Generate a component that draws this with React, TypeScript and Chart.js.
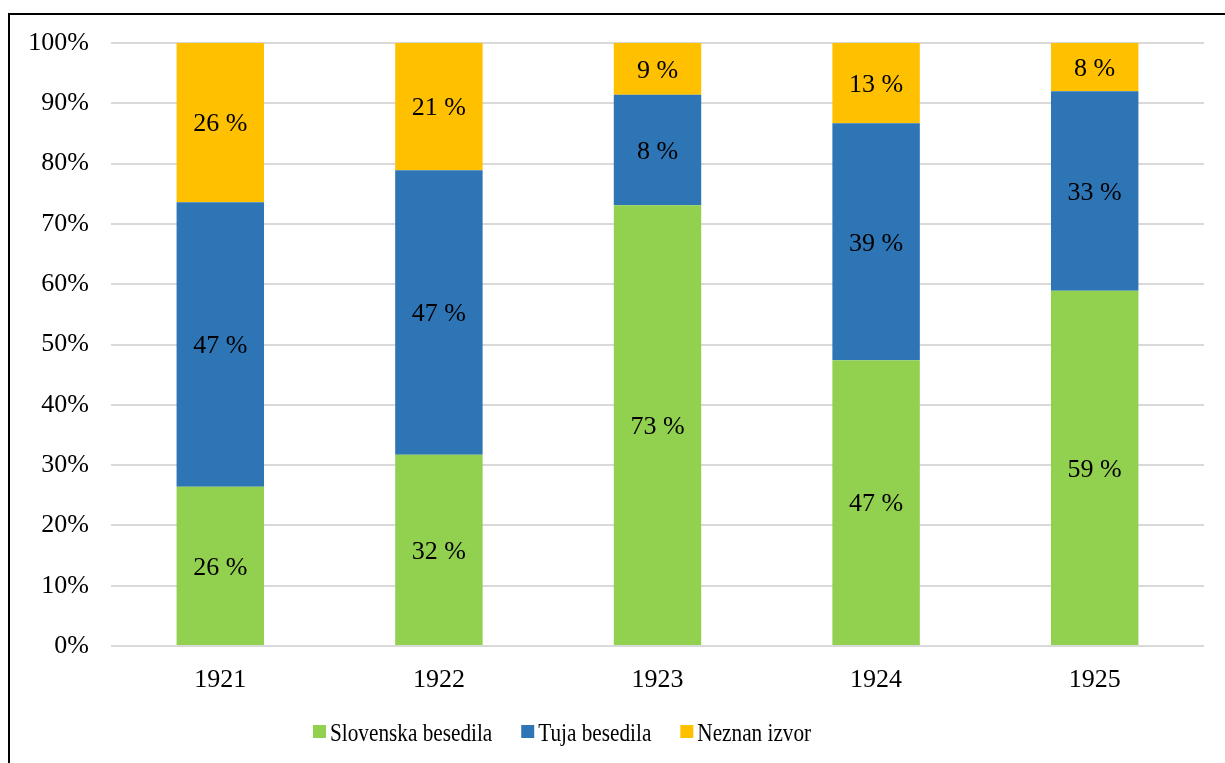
import React, { useEffect, useRef } from "react";
import { Chart, registerables } from "chart.js";

Chart.register(...registerables);

const years = ["1921", "1922", "1923", "1924", "1925"];
// segment heights as drawn (percent of bar)
const slovenska = [26.4, 31.7, 73.1, 47.4, 58.9];
const tuja = [47.2, 47.2, 18.3, 39.3, 33.1];
const neznan = [26.4, 21.1, 8.6, 13.3, 8.0];
// printed data labels (as shown on the chart)
const slovenskaLabels = ["26 %", "32 %", "73 %", "47 %", "59 %"];
const tujaLabels = ["47 %", "47 %", "8 %", "39 %", "33 %"];
const neznanLabels = ["26 %", "21 %", "9 %", "13 %", "8 %"];
const seriesNames = ["Slovenska besedila", "Tuja besedila", "Neznan izvor"];
const seriesColors = ["#92D050", "#2E75B6", "#FFC000"];
const yTicks = [0, 10, 20, 30, 40, 50, 60, 70, 80, 90, 100];

const FONT = '"Liberation Serif", "Times New Roman", serif';

const dataLabelPlugin = {
  id: "dataLabels",
  afterDatasetsDraw(chart: any) {
    const ctx = chart.ctx;
    ctx.save();
    ctx.font = `26px ${FONT}`;
    ctx.fillStyle = "#000";
    ctx.textAlign = "center";
    ctx.textBaseline = "middle";
    chart.data.datasets.forEach((ds: any, di: number) => {
      const meta = chart.getDatasetMeta(di);
      meta.data.forEach((el: any, i: number) => {
        const y = (el.y + el.base) / 2;
        ctx.fillText(ds.printed[i], el.x, y + 2);
      });
    });
    ctx.restore();
  },
};

const legendPlugin = {
  id: "customLegend",
  afterDraw(chart: any) {
    const ctx = chart.ctx;
    ctx.save();
    ctx.font = `26px ${FONT}`;
    ctx.textBaseline = "alphabetic";
    ctx.textAlign = "left";
    const sx = 0.817;
    let x = 313;
    const boxSize = 13;
    const boxTop = 725;
    const baseline = 741;
    chart.data.datasets.forEach((ds: any) => {
      ctx.fillStyle = ds.backgroundColor;
      ctx.fillRect(x, boxTop, boxSize, boxSize);
      const tx = x + boxSize + 4;
      const w = ctx.measureText(ds.label).width * sx;
      ctx.save();
      ctx.translate(tx, baseline);
      ctx.scale(sx, 1);
      ctx.fillStyle = "#000";
      ctx.fillText(ds.label, 0, 0);
      ctx.restore();
      x = tx + w + 29;
    });
    ctx.restore();
  },
};

export default function App() {
  const canvasRef = useRef<HTMLCanvasElement | null>(null);

  useEffect(() => {
    if (!canvasRef.current) return;
    const chart = new Chart(canvasRef.current, {
      type: "bar",
      data: {
        labels: years,
        datasets: [
          { label: seriesNames[0], data: slovenska, backgroundColor: seriesColors[0], printed: slovenskaLabels } as any,
          { label: seriesNames[1], data: tuja, backgroundColor: seriesColors[1], printed: tujaLabels } as any,
          { label: seriesNames[2], data: neznan, backgroundColor: seriesColors[2], printed: neznanLabels } as any,
        ],
      },
      options: {
        animation: false,
        responsive: false,
        maintainAspectRatio: false,
        devicePixelRatio: 1,
        layout: { padding: { left: 0, right: 21, top: 43, bottom: 0 } },
        datasets: {
          bar: { barPercentage: 0.8, categoryPercentage: 0.5, borderWidth: 0 },
        },
        plugins: {
          legend: { display: false },
          tooltip: { enabled: false },
        },
        scales: {
          x: {
            stacked: true,
            grid: { display: false, drawTicks: false },
            border: { display: false },
            ticks: {
              color: "#000",
              font: { family: FONT, size: 26 },
              padding: 19,
            },
            afterFit: (s: any) => {
              s.height = 117;
            },
          },
          y: {
            stacked: true,
            min: 0,
            max: 100,
            afterBuildTicks: (s: any) => {
              s.ticks = yTicks.map((v) => ({ value: v }));
            },
            grid: { color: "#D9D9D9", lineWidth: 2, drawTicks: false },
            border: { display: false },
            ticks: {
              color: "#000",
              font: { family: FONT, size: 26 },
              padding: 22,
              callback: (v: any) => `${v}%`,
            },
            afterFit: (s: any) => {
              s.width = 111;
            },
          },
        },
      },
      plugins: [dataLabelPlugin, legendPlugin],
    });
    return () => chart.destroy();
  }, []);

  return (
    <>
      <div
        style={{
          position: "fixed",
          left: 8,
          top: 13,
          width: 1400,
          height: 900,
          border: "2px solid #000",
          background: "#fff",
        }}
      />
      <div style={{ position: "fixed", left: 0, top: 0, width: 1225, height: 763 }}>
        <canvas ref={canvasRef} width={1225} height={763} style={{ width: 1225, height: 763 }} />
      </div>
    </>
  );
}
